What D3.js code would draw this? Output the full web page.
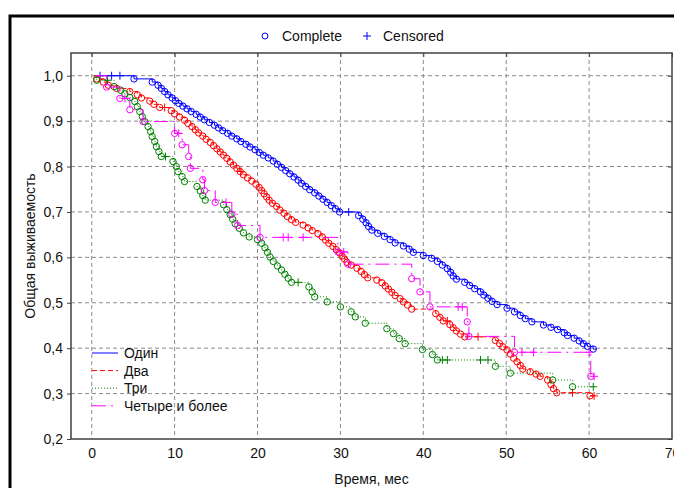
<!DOCTYPE html>
<html>
<head>
<meta charset="utf-8">
<script src="https://cdn.jsdelivr.net/npm/d3@7"></script>
<style>
  body { margin: 0; background: #fff; }
  svg { display: block; font-family: "Liberation Sans", Arial, sans-serif; }
</style>
</head>
<body>
<svg id="chart" width="674" height="488"></svg>
<script>
// tick values and labels
const xTicks = [0, 10, 20, 30, 40, 50, 60, 70];
const yTicks = [0.2, 0.3, 0.4, 0.5, 0.6, 0.7, 0.8, 0.9, 1.0];

const groupNames = ["Один", "Два", "Три", "Четыре и более"];

// each group: start time, end time, [time, survival] for events (circles) and censored (+)
const odinStart = 1.0, odinEnd = 60.9;
const odinEvents = [
  [5.1,0.993],[7.3,0.986],[8.0,0.979],[8.4,0.972],[8.8,0.965],[9.2,0.958],[9.7,0.951],[10.1,0.945],
  [10.5,0.939],[11.0,0.933],[11.5,0.927],[12.0,0.921],[12.6,0.915],[13.1,0.909],[13.6,0.903],[14.2,0.897],
  [14.8,0.891],[15.3,0.885],[15.8,0.879],[16.4,0.873],[16.9,0.867],[17.5,0.861],[18.0,0.855],[18.6,0.849],
  [19.1,0.843],[19.7,0.837],[20.2,0.831],[20.7,0.825],[21.3,0.819],[21.9,0.812],[22.4,0.805],[22.9,0.798],
  [23.4,0.791],[23.9,0.784],[24.4,0.777],[24.9,0.770],[25.3,0.763],[25.8,0.756],[26.3,0.749],[26.9,0.742],
  [27.4,0.735],[27.9,0.728],[28.4,0.721],[28.9,0.714],[29.4,0.707],[29.9,0.700],[32.2,0.692],[32.7,0.684],
  [33.1,0.676],[33.4,0.668],[33.8,0.660],[34.5,0.653],[35.3,0.646],[36.0,0.639],[36.6,0.632],[37.6,0.625],
  [38.3,0.618],[38.8,0.611],[40.0,0.604],[41.0,0.598],[41.7,0.591],[42.3,0.583],[42.9,0.575],[43.3,0.567],
  [43.6,0.559],[44.0,0.552],[45.0,0.545],[45.6,0.538],[46.2,0.531],[46.9,0.524],[47.3,0.517],[47.8,0.510],
  [48.3,0.503],[48.9,0.496],[50.1,0.488],[51.0,0.480],[51.7,0.472],[52.3,0.465],[53.1,0.458],[54.5,0.451],
  [55.4,0.446],[56.2,0.441],[57.0,0.434],[57.4,0.428],[58.2,0.422],[58.8,0.416],[59.3,0.410],[59.8,0.404],
  [60.5,0.398]
];
const odinCensored = [[1.0,1.0],[2.4,1.0],[3.4,1.0],[31.0,0.700]];

const dvaStart = 0.3, dvaEnd = 60.7;
const dvaEvents = [
  [0.6,0.993],[1.4,0.986],[2.0,0.979],[3.0,0.972],[4.6,0.965],[5.5,0.958],[6.0,0.951],[7.0,0.944],
  [7.5,0.937],[8.2,0.930],[9.6,0.923],[10.0,0.916],[10.6,0.909],[11.2,0.902],[11.6,0.895],[12.1,0.888],
  [12.5,0.881],[12.9,0.874],[13.4,0.867],[13.8,0.860],[14.3,0.853],[14.7,0.846],[15.1,0.839],[15.5,0.832],
  [15.9,0.825],[16.3,0.818],[16.7,0.810],[17.1,0.803],[17.5,0.796],[17.9,0.789],[18.3,0.782],[18.8,0.775],
  [19.3,0.768],[19.8,0.761],[20.2,0.754],[20.5,0.747],[20.8,0.740],[21.1,0.733],[21.4,0.726],[21.8,0.719],
  [22.3,0.712],[22.7,0.704],[23.2,0.697],[23.6,0.690],[24.1,0.683],[24.6,0.677],[25.5,0.671],[26.1,0.665],
  [26.6,0.659],[27.3,0.652],[27.8,0.645],[28.2,0.638],[28.6,0.631],[29.1,0.624],[29.5,0.617],[29.9,0.610],
  [30.2,0.603],[30.5,0.596],[30.8,0.589],[31.3,0.583],[32.0,0.576],[32.5,0.569],[32.9,0.562],[33.3,0.555],
  [34.4,0.550],[35.0,0.544],[35.4,0.537],[35.8,0.530],[36.2,0.523],[36.6,0.516],[37.2,0.509],[37.6,0.502],
  [38.1,0.495],[38.6,0.486],[41.5,0.476],[42.0,0.468],[42.4,0.460],[43.2,0.452],[43.6,0.445],[44.0,0.438],
  [44.5,0.431],[45.0,0.425],[48.7,0.417],[49.2,0.410],[49.6,0.403],[50.1,0.396],[50.5,0.387],[50.9,0.378],
  [51.3,0.370],[51.7,0.362],[52.0,0.354],[52.9,0.348],[53.6,0.343],[54.1,0.338],[55.0,0.330],[55.4,0.320],
  [55.7,0.311],[56.1,0.302],[60.1,0.295]
];
const dvaCensored = [[8.8,0.930],[18.0,0.789],[42.9,0.460],[46.6,0.425],[58.0,0.302],[60.6,0.295]];

const triStart = 0.3, triEnd = 60.7;
const triEvents = [
  [0.6,0.990],[2.7,0.976],[3.5,0.968],[4.0,0.960],[4.6,0.952],[5.2,0.943],[5.5,0.932],[5.8,0.921],
  [6.1,0.910],[6.4,0.899],[6.8,0.888],[7.1,0.877],[7.3,0.866],[7.6,0.855],[7.8,0.844],[8.1,0.833],
  [8.4,0.822],[9.8,0.811],[10.2,0.800],[10.4,0.789],[10.9,0.778],[11.2,0.767],[12.7,0.756],[13.1,0.746],
  [13.4,0.736],[13.7,0.726],[15.9,0.716],[16.3,0.705],[16.7,0.694],[17.0,0.684],[17.3,0.674],[17.8,0.664],
  [18.3,0.654],[19.0,0.645],[20.0,0.639],[20.5,0.631],[20.9,0.621],[21.2,0.611],[21.5,0.601],[21.9,0.591],
  [22.4,0.581],[22.9,0.572],[23.3,0.563],[23.7,0.554],[24.1,0.545],[26.2,0.535],[26.6,0.524],[26.9,0.513],
  [28.4,0.502],[30.0,0.491],[31.3,0.480],[31.8,0.469],[33.0,0.455],[35.6,0.443],[36.4,0.432],[37.1,0.421],
  [37.8,0.410],[39.9,0.397],[41.1,0.386],[41.7,0.374],[48.7,0.360],[50.5,0.345],[55.6,0.330],[58.0,0.315]
];
const triCensored = [[1.9,0.990],[8.9,0.822],[24.9,0.545],[42.3,0.374],[42.9,0.374],[46.9,0.374],[47.8,0.374],[60.5,0.315]];

const chetyreStart = 0.5, chetyreEnd = 60.7;
const chetyreEvents = [
  [1.8,0.975],[3.4,0.950],[4.6,0.925],[6.2,0.899],[10.0,0.873],[10.9,0.848],[11.7,0.822],[11.9,0.796],
  [13.4,0.771],[13.6,0.747],[14.9,0.721],[16.9,0.695],[17.6,0.670],[20.3,0.644],[29.7,0.612],[30.9,0.585],
  [38.6,0.553],[39.6,0.524],[40.8,0.491],[45.3,0.458],[45.5,0.426],[51.0,0.391],[60.2,0.338]
];
const chetyreCensored = [
  [4.0,0.950],[10.5,0.873],[16.2,0.721],[23.1,0.644],[23.7,0.644],[25.5,0.644],[30.4,0.612],
  [44.2,0.491],[44.7,0.491],[51.9,0.391],[53.3,0.391],[60.0,0.391],[60.6,0.338]
];

const colorLUT = ["#0000ff", "#ff0000", "#008000", "#ff00ff"];
const dashLUT = [null, "5,3", "1,2", "14,5,2,5"];

/**
 * Formats a tick value with a decimal comma.
 */
function commaFormat(v) {
  return d3.format(".1f")(v).replace(".", ",");
}

/**
 * Builds the step path of a survival curve.
 */
function stepPoints(start, end, events) {
  var pts = [[start, 1.0]];
  var level = 1.0;
  events.forEach(function(e) {
    pts.push([e[0], level]);
    pts.push([e[0], e[1]]);
    level = e[1];
  });
  pts.push([end, level]);
  return pts;
}

function drawChart() {
  var svg = d3.select("#chart");
  var left = 71, right = 672, top = 53, bottom = 439;

  var xScale = d3.scaleLinear().domain([-2.5, 70]).range([left, right]);
  var yScale = d3.scaleLinear().domain([0.2, 1.05]).range([bottom, top]);

  // outer frame
  svg.append("rect")
    .attr("x", 10).attr("y", 16)
    .attr("width", 720).attr("height", 520)
    .attr("fill", "none")
    .attr("stroke", "#000")
    .attr("stroke-width", 3);

  // grid
  svg.append("g").selectAll("line")
    .data(xTicks.filter(function(d) { return d < 70; }))
    .enter().append("line")
    .attr("x1", function(d) { return xScale(d); })
    .attr("x2", function(d) { return xScale(d); })
    .attr("y1", top).attr("y2", bottom)
    .attr("stroke", "#8c8c8c")
    .attr("stroke-dasharray", "4,3");

  svg.append("g").selectAll("line")
    .data(yTicks.filter(function(d) { return d > 0.2; }))
    .enter().append("line")
    .attr("x1", left).attr("x2", right)
    .attr("y1", function(d) { return yScale(d); })
    .attr("y2", function(d) { return yScale(d); })
    .attr("stroke", "#8c8c8c")
    .attr("stroke-dasharray", "4,3");

  // axes
  var xAxis = svg.append("g")
    .attr("transform", "translate(0," + bottom + ")")
    .call(d3.axisBottom(xScale).tickValues(xTicks).tickSize(0).tickPadding(9).tickFormat(d3.format("d")));
  var yAxis = svg.append("g")
    .attr("transform", "translate(" + left + ",0)")
    .call(d3.axisLeft(yScale).tickValues(yTicks).tickSize(4).tickPadding(4).tickFormat(commaFormat));
  var rAxis = svg.append("g")
    .attr("transform", "translate(" + right + ",0)")
    .call(d3.axisRight(yScale).tickValues(yTicks).tickSize(-4).tickFormat(""));
  var tAxis = svg.append("g")
    .attr("transform", "translate(0," + top + ")")
    .call(d3.axisTop(xScale).tickValues(xTicks).tickSize(-4).tickFormat(""));

  [xAxis, yAxis, rAxis, tAxis].forEach(function(a) {
    a.select(".domain").remove();
    a.selectAll("line").attr("stroke", "#404040");
    a.selectAll("text")
      .attr("fill", "#111")
      .style("font-size", "14px")
      .style("font-family", "'Liberation Sans', Arial, sans-serif");
  });

  svg.append("rect")
    .attr("x", left).attr("y", top)
    .attr("width", right - left).attr("height", bottom - top)
    .attr("fill", "none")
    .attr("stroke", "#404040")
    .attr("stroke-width", 1.5);

  // curves
  var groups = [
    [odinStart, odinEnd, odinEvents, odinCensored],
    [dvaStart, dvaEnd, dvaEvents, dvaCensored],
    [triStart, triEnd, triEvents, triCensored],
    [chetyreStart, chetyreEnd, chetyreEvents, chetyreCensored]
  ];

  var line = d3.line()
    .x(function(d) { return xScale(d[0]); })
    .y(function(d) { return yScale(d[1]); });

  groups.forEach(function(g, i) {
    var grp = svg.append("g");
    grp.append("path")
      .attr("d", line(stepPoints(g[0], g[1], g[2])))
      .attr("fill", "none")
      .attr("stroke", colorLUT[i])
      .attr("stroke-width", 1)
      .attr("stroke-dasharray", dashLUT[i]);

    grp.selectAll("circle")
      .data(g[2])
      .enter().append("circle")
      .attr("cx", function(d) { return xScale(d[0]); })
      .attr("cy", function(d) { return yScale(d[1]); })
      .attr("r", 3.2)
      .attr("fill", "none")
      .attr("stroke", colorLUT[i]);

    grp.selectAll(".cens")
      .data(g[3])
      .enter().append("path")
      .attr("class", "cens")
      .attr("d", function(d) {
        var cx = xScale(d[0]), cy = yScale(d[1]);
        return "M" + (cx - 4) + "," + cy + "H" + (cx + 4) + "M" + cx + "," + (cy - 4) + "V" + (cy + 4);
      })
      .attr("stroke", colorLUT[i])
      .attr("fill", "none");
  });

  // legend inside plot
  var legend = svg.append("g");
  groupNames.forEach(function(name, i) {
    var ly = 353 + i * 17.6;
    legend.append("line")
      .attr("x1", 92).attr("x2", 118)
      .attr("y1", ly).attr("y2", ly)
      .attr("stroke", colorLUT[i])
      .attr("stroke-dasharray", dashLUT[i]);
    legend.append("text")
      .attr("x", 124).attr("y", ly + 5)
      .style("font-size", "14px")
      .attr("fill", "#111")
      .text(name);
  });

  // top legend
  svg.append("circle")
    .attr("cx", 265).attr("cy", 36).attr("r", 3)
    .attr("fill", "none").attr("stroke", "#0000ff");
  svg.append("text")
    .attr("x", 282).attr("y", 41)
    .style("font-size", "14px").attr("fill", "#111")
    .text("Complete");
  svg.append("path")
    .attr("d", "M363,36H371M367,32V40")
    .attr("stroke", "#0000ff");
  svg.append("text")
    .attr("x", 383).attr("y", 41)
    .style("font-size", "14px").attr("fill", "#111")
    .text("Censored");

  // axis titles
  svg.append("text")
    .attr("x", (left + right) / 2).attr("y", 484)
    .style("text-anchor", "middle")
    .style("font-size", "14px").attr("fill", "#111")
    .text("Время, мес");
  svg.append("text")
    .attr("transform", "translate(35," + ((top + bottom) / 2) + ") rotate(-90)")
    .style("text-anchor", "middle")
    .style("font-size", "14px").attr("fill", "#111")
    .text("Общая выживаемость");
}

drawChart();
</script>
</body>
</html>
